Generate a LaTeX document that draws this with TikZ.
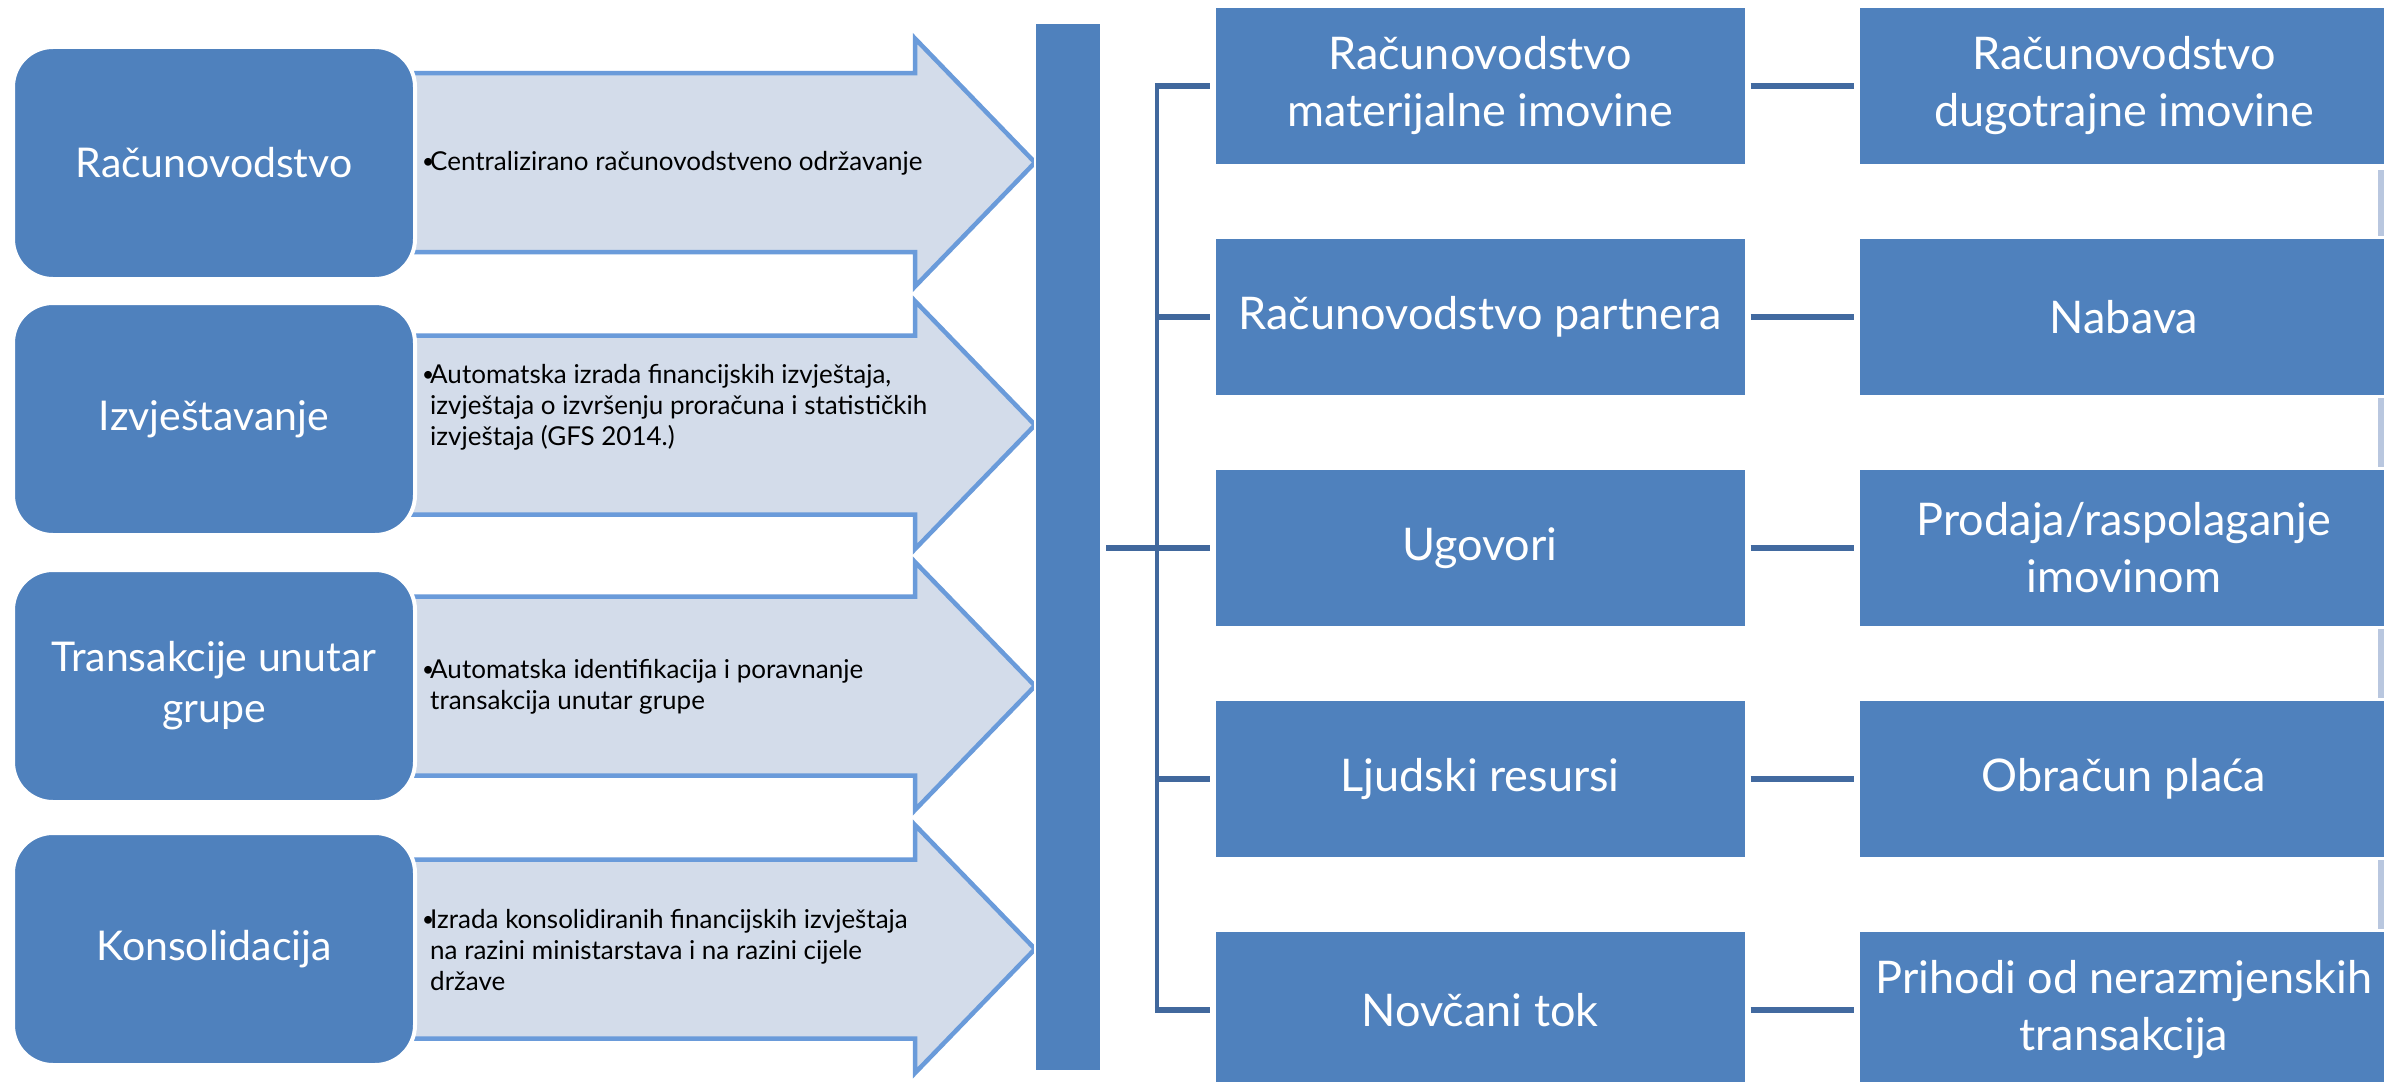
\documentclass[tikz,border=0pt]{standalone}
\usepackage{fontspec}
\setmainfont{Lato}
\definecolor{boxblue}{HTML}{4F81BD}
\definecolor{arrfill}{HTML}{D3DCEA}
\definecolor{arrline}{HTML}{6A9BDA}
\definecolor{connblue}{HTML}{41689D}
\definecolor{edgestrip}{HTML}{B9C7DF}
\tikzset{
  leftbox/.style={rectangle, rounded corners=40pt, fill=boxblue, draw=white, line width=4pt,
    minimum width=402pt, minimum height=232pt, text=white, align=center, inner sep=0pt,
    font=\fontsize{41}{51}\selectfont},
  catbox/.style={rectangle, fill=boxblue, draw=white, line width=3pt,
    minimum width=532pt, minimum height=159pt, text=white, align=center, inner sep=0pt,
    font=\fontsize{45}{57}\selectfont},
  barbox/.style={rectangle, fill=boxblue, draw=white, line width=2pt,
    minimum width=66pt, minimum height=1048pt, inner sep=0pt},
  bigarrow/.style={fill=arrfill, draw=arrline, line width=4.5pt, line join=miter},
  arrtext/.style={anchor=west, align=left, inner sep=0pt, text=black,
    font=\fontsize{26}{31}\selectfont},
  trunk/.style={draw=connblue, line width=4.5pt},
  branch/.style={draw=connblue, line width=6pt},
  link/.style={draw=connblue!90!boxblue, line width=5.5pt}
}
\newcommand{\bul}{\makebox[8pt][l]{\raisebox{2pt}{\scalebox{0.8}{•}}}}
\newcommand{\hang}{\hspace*{8pt}}
\begin{document}
\begin{tikzpicture}[x=1pt,y=-1pt]
\clip (0,0) rectangle (2384,1081);
\fill[white] (0,0) rectangle (2384,1081);
% thin strip at right edge
\fill[edgestrip] (2378,170) rectangle (2384,1081);

% big arrows
\foreach \c in {162.5,425,686,949}{
  \path[bigarrow] (380,\c-89.5) -- (915,\c-89.5) -- (915,\c-124) -- (1035,\c)
    -- (915,\c+124) -- (915,\c+89.5) -- (380,\c+89.5) -- cycle;
}

% left boxes
\node[leftbox] (l1) at (214,163) {Računovodstvo};
\node[leftbox] (l2) at (214,419) {Izvještavanje};
\node[leftbox] (l3) at (214,686) {Transakcije unutar\\grupe};
\node[leftbox] (l4) at (214,949) {Konsolidacija};

% arrow texts
\node[arrtext] (t1) at (422,163) {\bul Centralizirano računovodstveno održavanje};
\node[arrtext] (t2) at (422,407) {\bul Automatska izrada financijskih izvještaja,\\
  \hang izvještaja o izvršenju proračuna i statističkih\\
  \hang izvještaja (GFS 2014.)};
\node[arrtext] (t3) at (422,687) {\bul Automatska identifikacija i poravnanje\\
  \hang transakcija unutar grupe};
\node[arrtext] (t4) at (422,950) {\bul Izrada konsolidiranih financijskih izvještaja\\
  \hang na razini ministarstava i na razini cijele\\
  \hang države};

% vertical bar
\node[barbox] (bar) at (1068,547) {};

% middle column
\node[catbox] (m1) at (1480,86) {Računovodstvo\\materijalne imovine};
\node[catbox] (m2) at (1480,317) {Računovodstvo partnera};
\node[catbox] (m3) at (1480,548) {Ugovori};
\node[catbox] (m4) at (1480,779) {Ljudski resursi};
\node[catbox] (m5) at (1480,1010) {Novčani tok};

% right column
\node[catbox] (r1) at (2124,86) {Računovodstvo\\dugotrajne imovine};
\node[catbox] (r2) at (2124,317) {Nabava};
\node[catbox] (r3) at (2124,548) {Prodaja/raspolaganje\\imovinom};
\node[catbox] (r4) at (2124,779) {Obračun plaća};
\node[catbox] (r5) at (2124,1010) {Prihodi od nerazmjenskih\\transakcija};

% trunk and branches
\coordinate (tk) at (1157,0);
\draw[trunk] (tk |- m1.west) -- (tk |- m5.west);
\foreach \m in {m1,m2,m4,m5}{
  \draw[branch, shorten >=3pt] ([xshift=-2.25pt]tk |- \m.west) -- (\m.west);
}
\draw[branch, shorten >=3pt, shorten <=4pt] (bar.east |- m3.west) -- (m3.west);

% links middle to right
\foreach \i in {1,...,5}{
  \draw[link, shorten >=3pt, shorten <=3pt] (m\i.east) -- (r\i.west);
}
\end{tikzpicture}
\end{document}
